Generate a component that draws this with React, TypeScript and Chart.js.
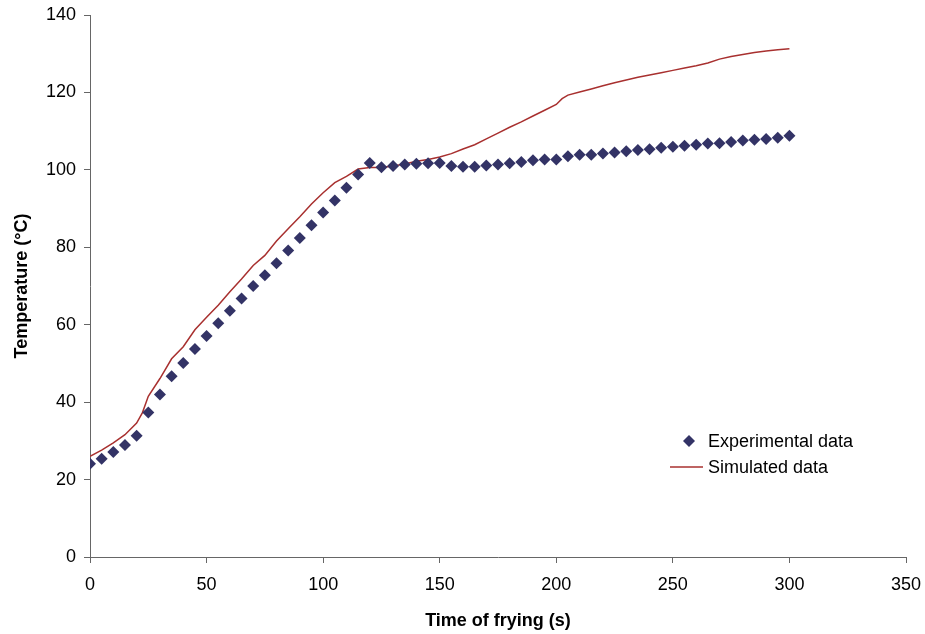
import React, { useEffect, useRef } from "react";
import { Chart, registerables } from "chart.js";

Chart.register(...registerables);

const expTime = [
  0, 5, 10, 15, 20, 25, 30, 35, 40, 45, 50, 55, 60, 65, 70, 75, 80, 85, 90, 95,
  100, 105, 110, 115, 120, 125, 130, 135, 140, 145, 150, 155, 160, 165, 170, 175,
  180, 185, 190, 195, 200, 205, 210, 215, 220, 225, 230, 235, 240, 245, 250, 255,
  260, 265, 270, 275, 280, 285, 290, 295, 300,
];
const expTemp = [
  24.1, 25.4, 27.1, 28.9, 31.3, 37.3, 42.0, 46.7, 50.1, 53.7, 57.1, 60.4, 63.6,
  66.8, 70.0, 72.8, 75.9, 79.2, 82.4, 85.7, 89.0, 92.1, 95.4, 98.8, 101.8, 100.7,
  101.0, 101.4, 101.6, 101.7, 101.8, 101.0, 100.8, 100.8, 101.1, 101.4, 101.7,
  102.0, 102.5, 102.7, 102.7, 103.5, 103.9, 103.9, 104.2, 104.5, 104.8, 105.1,
  105.3, 105.7, 106.0, 106.2, 106.5, 106.8, 106.9, 107.2, 107.6, 107.8, 108.0,
  108.3, 108.8,
];

const simTime = [
  0, 5, 10, 15, 20, 22.5, 25, 30, 35, 40, 45, 50, 55, 60, 65, 70, 75, 80, 85, 90,
  95, 100, 105, 110, 115, 120, 125, 130, 135, 140, 145, 150, 155, 160, 165, 170,
  175, 180, 185, 190, 195, 200, 202.5, 205, 210, 215, 220, 225, 230, 235, 240,
  245, 250, 255, 260, 265, 270, 275, 280, 285, 290, 295, 300,
];
const simTemp = [
  26.0, 27.6, 29.5, 31.6, 34.6, 37.3, 41.5, 46.1, 51.2, 54.3, 58.7, 61.9, 65.0,
  68.5, 71.8, 75.3, 77.9, 81.6, 84.8, 87.9, 91.2, 94.1, 96.7, 98.3, 100.2, 100.6,
  100.6, 101.0, 101.5, 102.2, 102.7, 103.3, 104.2, 105.4, 106.5, 108.0, 109.5,
  111.0, 112.4, 113.9, 115.4, 116.9, 118.4, 119.3, 120.1, 120.9, 121.7, 122.5,
  123.2, 123.9, 124.5, 125.1, 125.7, 126.3, 126.9, 127.6, 128.6, 129.3, 129.8,
  130.3, 130.7, 131.0, 131.3,
];

const xTicks = [0, 50, 100, 150, 200, 250, 300, 350];
const yTicks = [0, 20, 40, 60, 80, 100, 120, 140];

const seriesNames = ["Experimental data", "Simulated data"];
const xTitle = "Time of frying (s)";
const yTitle = "Temperature (°C)";

const EXP_COLOR = "#333366";
const SIM_COLOR = "#a8302f";
const FONT = "'Liberation Sans', Arial, sans-serif";

const legendPlugin = {
  id: "customLegend",
  afterDraw(chart: any) {
    const ctx = chart.ctx;
    const { left, top } = chart.chartArea;
    const x0 = left + 580;
    const y0 = top + 426;
    ctx.save();
    ctx.font = `18px ${FONT}`;
    ctx.fillStyle = "#000";
    ctx.textBaseline = "middle";
    ctx.textAlign = "left";
    ctx.beginPath();
    const r = 6;
    const cx = x0 + 19;
    ctx.moveTo(cx, y0 - r);
    ctx.lineTo(cx + r, y0);
    ctx.lineTo(cx, y0 + r);
    ctx.lineTo(cx - r, y0);
    ctx.closePath();
    ctx.fillStyle = EXP_COLOR;
    ctx.fill();
    ctx.fillStyle = "#000";
    ctx.fillText(seriesNames[0], x0 + 38, y0 + 1);
    const y1 = y0 + 26;
    ctx.beginPath();
    ctx.moveTo(x0, y1);
    ctx.lineTo(x0 + 33, y1);
    ctx.strokeStyle = SIM_COLOR;
    ctx.lineWidth = 1.5;
    ctx.stroke();
    ctx.fillText(seriesNames[1], x0 + 38, y1 + 1);
    ctx.restore();
  },
};

export default function App() {
  const ref = useRef<HTMLCanvasElement | null>(null);
  useEffect(() => {
    if (!ref.current) return;
    const chart = new Chart(ref.current, {
      type: "scatter",
      data: {
        datasets: [
          {
            label: seriesNames[0],
            data: expTime.map((t, i) => ({ x: t, y: expTemp[i] })),
            pointStyle: "rectRot",
            pointRadius: 6,
            pointBackgroundColor: EXP_COLOR,
            pointBorderColor: EXP_COLOR,
            pointBorderWidth: 0,
            showLine: false,
            order: 1,
          },
          {
            label: seriesNames[1],
            data: simTime.map((t, i) => ({ x: t, y: simTemp[i] })),
            showLine: true,
            borderColor: SIM_COLOR,
            borderWidth: 1.5,
            pointRadius: 0,
            tension: 0,
            order: 2,
          },
        ],
      },
      options: {
        animation: false,
        responsive: true,
        maintainAspectRatio: false,
        layout: { padding: { left: 7, right: 19, top: 15, bottom: 0 } },
        plugins: {
          legend: { display: false },
          tooltip: { enabled: false },
        },
        scales: {
          x: {
            type: "linear",
            min: 0,
            max: 350,
            afterBuildTicks: (scale: any) => {
              scale.ticks = xTicks.map((v) => ({ value: v }));
            },
            afterFit: (scale: any) => {
              scale.height = 77;
              scale.paddingLeft = 0;
              scale.paddingRight = 0;
            },
            grid: {
              drawOnChartArea: false,
              drawTicks: true,
              tickLength: 6,
              color: "#666",
            },
            border: { color: "#666", width: 1 },
            ticks: {
              color: "#000",
              font: { family: FONT, size: 18 },
              padding: 11,
              maxRotation: 0,
            },
            title: {
              display: true,
              text: xTitle,
              color: "#000",
              font: { family: FONT, size: 18, weight: "bold" },
              padding: { top: 0, bottom: 2 },
            },
          },
          y: {
            type: "linear",
            min: 0,
            max: 140,
            afterBuildTicks: (scale: any) => {
              scale.ticks = yTicks.map((v) => ({ value: v }));
            },
            afterFit: (scale: any) => {
              scale.width = 83;
              scale.paddingTop = 0;
              scale.paddingBottom = 0;
            },
            grid: {
              drawOnChartArea: false,
              drawTicks: true,
              tickLength: 6,
              color: "#666",
            },
            border: { color: "#666", width: 1 },
            ticks: {
              color: "#000",
              font: { family: FONT, size: 18 },
              padding: 8,
            },
            title: {
              display: true,
              text: yTitle,
              color: "#000",
              font: { family: FONT, size: 18, weight: "bold" },
              padding: { top: 4, bottom: 0 },
            },
          },
        },
      },
      plugins: [legendPlugin],
    });
    return () => chart.destroy();
  }, []);
  return (
    <div
      style={{
        position: "fixed",
        left: 0,
        top: 0,
        width: 925,
        height: 634,
        background: "#fff",
      }}
    >
      <canvas ref={ref} />
    </div>
  );
}
